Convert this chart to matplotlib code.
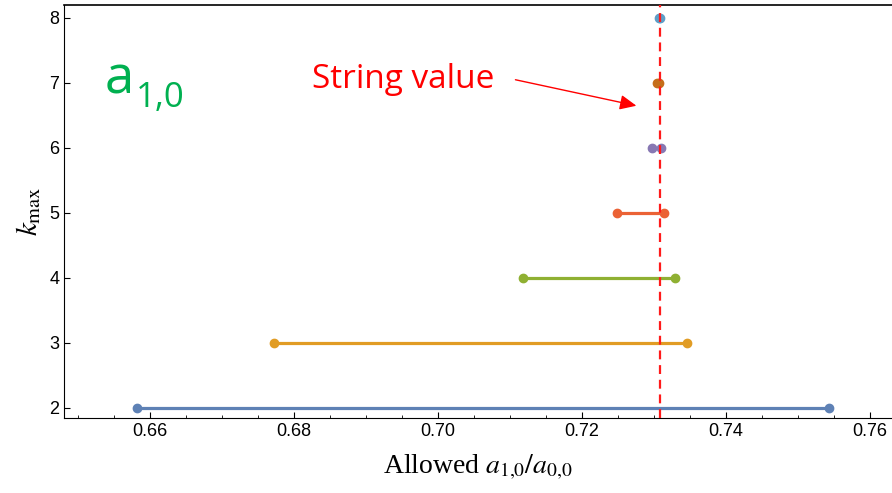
import matplotlib
matplotlib.use("Agg")
import matplotlib.pyplot as plt

# allowed interval of a_{1,0}/a_{0,0} for each k_max
k_max = [2, 3, 4, 5, 6, 7, 8]
lower = [0.6582, 0.6772, 0.7119, 0.7249, 0.7298, 0.7304, 0.7308]
upper = [0.7543, 0.7346, 0.7330, 0.7314, 0.7310, 0.7308, 0.7309]
colors = ["#5E81B5", "#E19C24", "#8FB032", "#EB6235", "#8778B3", "#C56E1A", "#5D9EC7"]
string_value = 0.7309

plt.rcParams['mathtext.fontset'] = 'stix'

fig = plt.figure(figsize=(8.92, 4.93), dpi=100)
ax = fig.add_axes([64 / 892, 75 / 493, 828 / 892, 413 / 493])

for k, lo, hi, c in zip(k_max, lower, upper, colors):
    ax.plot([lo, hi], [k, k], color=c, lw=2.3, marker="o", ms=6, solid_capstyle="butt", zorder=2)

ax.axvline(string_value, color="#FF1A1A", lw=1.6, ls=(0, (4, 2.6)), zorder=3)

ax.set_xlim(0.6481, 0.7631)
ax.set_ylim(1.846, 8.2)
ax.set_xticks([0.66, 0.68, 0.70, 0.72, 0.74, 0.76])
ax.set_xticklabels(["0.66", "0.68", "0.70", "0.72", "0.74", "0.76"])
ax.set_xticks([0.65 + 0.005 * i for i in range(23)], minor=True)
ax.set_yticks(k_max)
ax.tick_params(axis="both", which="major", labelsize=13, direction="in", length=4, width=0.8)
ax.tick_params(axis="x", which="minor", direction="in", length=2.5, width=0.6)
for lab in ax.get_xticklabels() + ax.get_yticklabels():
    lab.set_family("Liberation Sans")
ax.spines["right"].set_visible(False)
ax.spines["top"].set_linewidth(1.2)

ax.set_xlabel(r"Allowed $a_{1{,}0}/a_{0{,}0}$", fontsize=20, family="Liberation Serif", labelpad=9)
ax.set_ylabel(r"$k_{\mathrm{max}}$", fontsize=21, labelpad=4)

ax.text(0.0495, 0.785, "a", transform=ax.transAxes, fontsize=38, color="#00B050",
        family="Open Sans", va="baseline")
ax.text(0.087, 0.753, "1,0", transform=ax.transAxes, fontsize=25, color="#00B050",
        family="Open Sans", va="baseline")

ax.text(0.3, 0.80, "String value", transform=ax.transAxes, fontsize=24, color="#FF0000",
        family="Open Sans", va="baseline")
ax.annotate("", xy=(0.7276, 6.65), xytext=(0.7108, 7.05),
            arrowprops=dict(arrowstyle="-|>,head_length=1.0,head_width=0.45",
                            color="#FF0000", lw=1, shrinkA=0, shrinkB=0))

fig.savefig("out.png", dpi=100)
